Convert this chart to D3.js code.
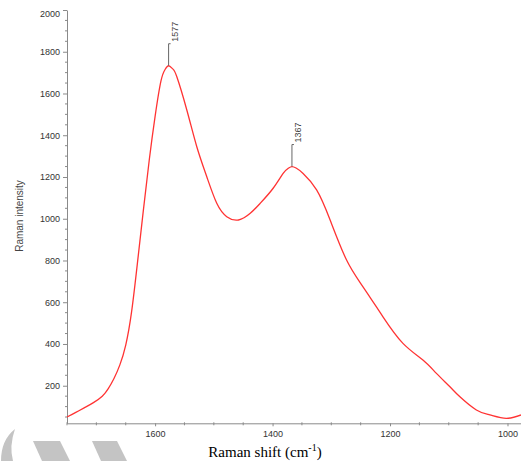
<!DOCTYPE html>
<html>
<head>
<meta charset="utf-8">
<script src="https://cdn.jsdelivr.net/npm/d3@7"></script>
<style>
  body { margin: 0; background: #fff; }
  svg { display: block; }
</style>
</head>
<body>
<div id="chart"></div>
<script>
// spectrum (wavenumber in cm-1, intensity)
const shift = [1750, 1735, 1720, 1705, 1690, 1680, 1670, 1660, 1650, 1640, 1630, 1620, 1610, 1600, 1590,
  1583, 1577, 1570, 1563, 1546, 1529, 1512, 1495, 1478, 1458, 1438, 1421, 1399, 1382, 1373, 1367,
  1360, 1348, 1325, 1302, 1274, 1246, 1212, 1178, 1144, 1121, 1098, 1081, 1053, 1030, 1002, 977];
const intensity = [50, 72, 95, 119, 150, 185, 235, 300, 395, 555, 790, 1040, 1280, 1490, 1660,
  1715, 1733, 1718, 1680, 1521, 1345, 1201, 1074, 1010, 994, 1026, 1074, 1146, 1217, 1242, 1250,
  1243, 1217, 1138, 994, 802, 674, 530, 403, 323, 259, 195, 147, 84, 60, 44, 60];
const peaks = [1577, 1367];
const xTicks = [1600, 1400, 1200, 1000];
const yTicks = [200, 400, 600, 800, 1000, 1200, 1400, 1600, 1800, 2000];

const W = 521, H = 461;
const data = shift.map((s, i) => ({ s: s, v: intensity[i] }));

const svg = d3.select('#chart').append('svg').attr('width', W).attr('height', H);

// faint watermark pieces at the bottom left
const wm = svg.append('g').attr('fill', '#c4c4c4');
wm.append('path').attr('d', 'M15,429 Q1,440 1,461 L13,461 Q9,446 15,429 Z');
wm.append('path').attr('d', 'M33,441 L60,441 L70,461 L42,461 Z');
wm.append('path').attr('d', 'M92,441 L117,441 L127,461 L101,461 Z');

const x = d3.scaleLinear().domain([1750, 977]).range([67, 521]);
const y = d3.scaleLinear().domain([20, 2000]).range([423.3, 10]);

const axisColor = '#8a8a8a';
const tickFont = '"Liberation Sans", Arial, sans-serif';
const fmt = d3.format('d');

// y axis
const gy = svg.append('g').attr('transform', 'translate(' + x.range()[0] + ',0)');
gy.call(d3.axisLeft(y).tickValues(yTicks).tickFormat(fmt).tickSize(4).tickSizeOuter(0).tickPadding(3));
gy.select('.domain').attr('stroke', axisColor);
gy.selectAll('.tick line').attr('stroke', axisColor);
gy.selectAll('.tick text').attr('fill', '#333').style('font', '9px ' + tickFont);
gy.selectAll('.tick text').filter(d => d === 2000).attr('dy', '0.75em');
gy.selectAll('.minor').data(d3.range(50, 2001, 50).filter(v => v % 200 !== 0))
  .join('line').attr('class', 'minor')
  .attr('x1', -2).attr('x2', 1)
  .attr('y1', d => y(d)).attr('y2', d => y(d))
  .attr('stroke', axisColor);

// x axis
const gx = svg.append('g').attr('transform', 'translate(0,' + y.range()[0] + ')');
gx.call(d3.axisBottom(x).tickValues(xTicks).tickFormat(fmt).tickSize(3).tickSizeOuter(0).tickPadding(4));
gx.select('.domain').attr('stroke', axisColor);
gx.selectAll('.tick line').attr('stroke', axisColor);
gx.selectAll('.tick text').attr('fill', '#333').style('font', '9px ' + tickFont);
gx.selectAll('.minor').data(d3.range(1000, 1751, 50).filter(v => v % 200 !== 0))
  .join('line').attr('class', 'minor')
  .attr('y1', -1).attr('y2', 2)
  .attr('x1', d => x(d)).attr('x2', d => x(d))
  .attr('stroke', axisColor);

// axis titles
svg.append('text')
  .attr('transform', 'translate(23,' + 216 + ') rotate(-90)')
  .attr('text-anchor', 'middle')
  .attr('fill', '#444')
  .style('font', '10px ' + tickFont)
  .text('Raman intensity');

const xt = svg.append('text')
  .attr('x', 265).attr('y', 457)
  .attr('text-anchor', 'middle')
  .attr('fill', '#000')
  .style('font', '15px "Liberation Serif", "Times New Roman", serif');
xt.append('tspan').text('Raman shift (cm');
xt.append('tspan').attr('dy', -6).style('font-size', '10px').text('-1');
xt.append('tspan').attr('dy', 6).text(')');

// spectrum
const line = d3.line().x(d => x(d.s)).y(d => y(d.v)).curve(d3.curveNatural);
svg.append('path').datum(data)
  .attr('d', line)
  .attr('fill', 'none')
  .attr('stroke', '#ff3333')
  .attr('stroke-width', 1.3);

// peak markers
peaks.forEach(p => {
  const d = data.find(r => r.s === p);
  const px = x(d.s), py = y(d.v);
  const g = svg.append('g').attr('stroke', '#666');
  g.append('line').attr('x1', px).attr('x2', px).attr('y1', py).attr('y2', py - 22);
  g.append('line').attr('x1', px).attr('x2', px + 2).attr('y1', py - 22).attr('y2', py - 22);
  svg.append('text')
    .attr('transform', 'translate(' + (px + 9) + ',' + (py - 24) + ') rotate(-90)')
    .attr('fill', '#444')
    .style('font', '9px ' + tickFont)
    .text(p);
});
</script>
</body>
</html>
